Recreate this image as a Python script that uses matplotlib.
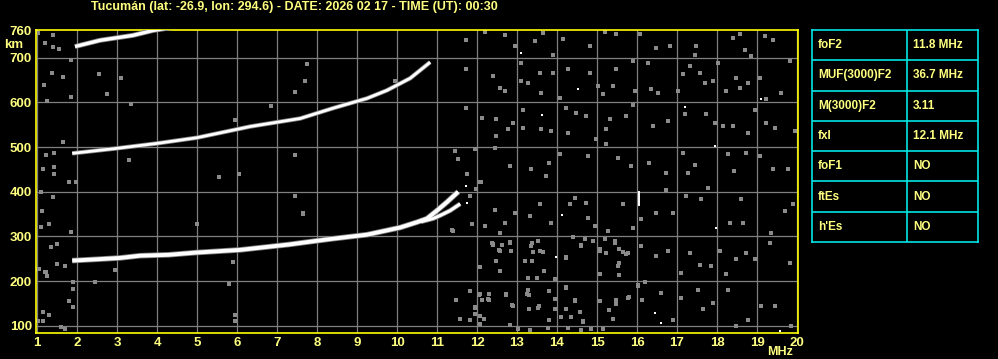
# Ionogram plot (Tucuman station) rebuilt with matplotlib

# Modules
import matplotlib
matplotlib.use('Agg')
import matplotlib.pyplot as plt

# Station / time header
title_text = "Tucumán (lat: -26.9, lon: 294.6) - DATE: 2026 02 17 - TIME (UT): 00:30"

# Axis ticks
freq_ticks = list(range(1, 21))
height_ticks = [100, 200, 300, 400, 500, 600, 700, 760]

# F2 first hop, ordinary trace (MHz, km)
f2_o_freq = [1.88, 2.5, 3.08, 3.58, 4.3, 4.98, 6.08, 7.3, 7.8, 8.4, 9.25, 10.08, 10.5, 10.75, 11.0, 11.25, 11.53]
f2_o_height = [246, 249, 252, 257, 259, 264, 270, 282, 288, 295, 304, 320, 332, 340, 358, 377, 400]

# F2 first hop, split (extraordinary) branch
f2_x_freq = [10.6, 10.9, 11.08, 11.33, 11.58]
f2_x_height = [333, 340, 347, 358, 373]

# F2 second hop
f2_2hop_freq = [1.88, 2.98, 3.98, 5.0, 6.33, 7.58, 8.4, 9.25, 9.75, 10.33, 10.83]
f2_2hop_height = [486, 497, 508, 521, 546, 564, 587, 609, 627, 654, 690]

# F2 third hop
f2_3hop_freq = [1.95, 2.58, 3.4, 3.9, 4.4]
f2_3hop_height = [725, 739, 750, 761, 768]

# Scattered noise echoes (MHz, km)
noise_freq = [
    1.23, 1.43, 1.15, 1.43, 1.43, 1.1, 1.4, 1.13, 1.3, 1.1, 1.85, 1.35, 1.5, 1.05, 1.23, 1.65, 1.8, 1.98,
    1.03, 1.2, 1.4, 1.2, 1.4, 1.55, 1.85, 1.18, 1.38, 1.65, 1.85, 1.25, 2.55, 3.1, 2.75, 3.35,
    1.03, 1.2, 1.25, 1.5, 1.7, 1.9, 1.9, 1.8, 1.9, 1.15, 1.3, 1.03, 1.15, 1.6, 1.7, 2.95, 2.45,
    5.9, 5.8, 5.95, 5.95, 3.3, 5.55, 6.05, 7.45, 7.45, 7.65, 5.0, 2.95, 7.75, 7.7, 7.45, 6.85, 5.95, 9.95,
    11.45, 11.53, 11.75, 12.08, 12.45, 12.2, 11.88, 11.4, 12.4, 7.65,
    11.73, 12.19, 12.69, 12.94, 13.44, 13.65, 13.9, 14.15, 14.82, 15.19, 15.48, 16.07, 16.48, 16.82,
    17.48, 17.44, 18.4, 18.57, 18.69, 18.86, 19.19, 19.4,
    11.72, 12.4, 12.57, 12.69, 13.1, 13.1, 13.27, 13.57, 13.6, 13.9, 14.07, 14.27, 14.82, 15.02,
    15.15, 15.4, 15.48, 15.9, 15.94, 16.27, 16.35, 16.52, 17.02, 17.15, 17.32, 17.57, 17.69, 17.9,
    18.02, 18.23, 18.48, 18.57, 18.77, 19.07, 19.23, 19.6, 19.82,
    11.73, 12.13, 12.48, 12.48, 12.77, 12.9, 13.15, 13.15, 13.6, 13.85, 14.22, 14.27, 14.48, 14.73,
    14.98, 15.23, 15.32, 15.73, 15.9, 16.4, 16.77, 17.19, 17.73, 17.94, 18.15, 18.4, 18.77, 18.94,
    19.23, 19.44, 19.94,
    11.94, 12.44, 12.82, 13.36, 13.73, 13.81, 14.07, 14.77, 15.23, 15.52, 15.85, 16.3, 16.73, 17.15,
    17.27, 17.44, 18.27, 18.43, 18.73, 19.07, 19.4, 19.78,
    11.98, 11.83, 12.1, 12.44, 12.69, 12.57, 12.94, 13.32, 13.57, 13.85, 14.32, 14.44, 14.73, 14.77,
    14.94, 15.27, 15.65, 15.9, 16.1, 16.48, 16.9, 16.73, 17.23, 17.6, 17.77, 18.32, 18.6, 18.65,
    19.36, 19.69, 19.9,
    12.4, 12.57, 12.82, 13.2, 13.36, 13.57, 14.23, 14.6, 14.9, 15.07, 15.44, 15.52, 15.73, 16.1,
    16.48, 16.77, 17.1, 17.32, 17.57, 17.85, 18.07, 18.23, 18.48, 18.73, 18.94, 19.32, 19.82,
    11.94, 12.06, 12.27, 12.73, 12.9, 13.28, 13.53, 13.94, 14.23, 14.44, 14.65, 15.07, 15.48, 15.77,
    16.02, 16.61, 16.9, 17.1, 17.52, 17.65, 17.9, 18.27, 18.48, 18.77, 19.1, 19.44, 19.86,
    # denser patch, 11-16 MHz below 300 km
    11.38, 12.58, 12.38, 12.63, 12.82, 12.55, 12.84, 12.48, 12.08, 12.58, 13.19, 13.38, 13.4, 13.65,
    13.53, 13.38, 13.68, 13.5, 13.28, 13.94, 14.23, 14.4, 14.61, 14.69, 14.9, 15.19, 15.44, 15.08,
    15.23, 15.55, 15.65, 15.78, 15.55, 15.08, 15.55,
    11.83, 11.48, 11.94, 11.94, 11.58, 11.83, 12.07, 12.18, 12.08, 12.08, 12.29, 12.13, 12.3, 12.73,
    12.88, 12.82, 13.25, 13.3, 13.29, 13.54, 13.79, 13.79, 13.94, 13.94, 14.09, 14.23, 14.23, 14.36,
    14.44, 14.58, 14.65, 14.86, 15.15, 15.29, 15.4, 15.48, 15.79, 16.12, 16.03, 16.19, 13.03, 13.32,
    13.78, 14.28, 14.61,
]
noise_height = [
    483, 486, 452, 456, 439, 400, 389, 356, 329, 322, 311, 277, 284, 228, 221, 512, 423, 423,
    755, 732, 750, 732, 723, 719, 694, 640, 665, 656, 613, 604, 663, 654, 618, 596,
    228, 221, 212, 239, 235, 199, 183, 156, 143, 131, 125, 111, 111, 98, 93, 226, 199,
    243, 194, 125, 111, 470, 434, 439, 483, 391, 351, 329, 226, 685, 649, 624, 591, 560, 649,
    492, 474, 439, 423, 360, 324, 329, 313, 284, 353,
    740, 758, 750, 726, 737, 756, 707, 741, 726, 758, 754, 752, 722, 726,
    726, 705, 745, 752, 717, 704, 748, 740,
    674, 659, 633, 625, 689, 648, 644, 666, 622, 666, 610, 674, 666, 637,
    618, 637, 674, 693, 625, 689, 629, 622, 625, 663, 681, 666, 644, 648,
    689, 625, 655, 633, 644, 655, 607, 622, 693,
    588, 566, 562, 525, 540, 555, 584, 543, 540, 536, 588, 532, 577, 570,
    517, 540, 563, 569, 595, 547, 558, 573, 573, 555, 547, 547, 532, 584,
    555, 543, 536,
    495, 499, 457, 450, 435, 465, 484, 480, 506, 476, 457, 465, 443, 487,
    443, 461, 484, 446, 487, 480, 450, 450,
    407, 390, 422, 359, 331, 308, 353, 346, 372, 331, 372, 387, 375, 342,
    323, 312, 372, 320, 338, 353, 353, 405, 390, 383, 409, 331, 383, 331,
    308, 357, 372,
    282, 267, 286, 245, 278, 267, 252, 278, 289, 267, 286, 234, 260, 278,
    256, 267, 219, 263, 237, 233, 267, 215, 249, 263, 249, 286, 241,
    140, 170, 159, 170, 144, 181, 140, 159, 185, 155, 110, 155, 148, 162,
    189, 174, 114, 162, 181, 137, 152, 181, 99, 114, 144, 144, 99,
    315, 308, 285, 281, 287, 270, 268, 245, 231, 223, 245, 285, 265, 266,
    289, 246, 223, 208, 206, 204, 253, 298, 281, 295, 289, 295, 290, 272,
    262, 272, 265, 262, 240, 217, 214,
    177, 157, 142, 127, 116, 114, 122, 116, 105, 172, 172, 157, 157, 172,
    147, 101, 172, 168, 138, 144, 177, 112, 161, 138, 120, 186, 138, 120,
    157, 131, 108, 93, 93, 135, 116, 157, 165, 157, 191, 198, 93, 91,
    95, 95, 91,
]

# Strong isolated echoes (white)
spot_freq = [13.1, 14.52, 19.11, 13.63, 17.19, 17.94, 11.73, 11.75, 14.13, 17.98, 13.98, 16.44, 16.59, 19.58]
spot_height = [711, 629, 607, 571, 590, 502, 413, 375, 347, 320, 254, 129, 107, 88]

# Vertical white echo near 16 MHz
bar_freq = [16.05, 16.05]
bar_height = [370, 400]

# Scaled parameters table
param_names = ["foF2", "MUF(3000)F2", "M(3000)F2", "fxI", "foF1", "ftEs", "h'Es"]
param_values = ["11.8 MHz", "36.7 MHz", "3.11", "12.1 MHz", "NO", "NO", "NO"]

# Colours
yellow = '#ffff80'
grid_gray = '#808080'
cyan = '#00e5e5'

W, H = 998, 359
plt.rcParams['font.family'] = ['Liberation Sans', 'DejaVu Sans']

fig = plt.figure(figsize=(W / 100, H / 100), dpi=100, facecolor='black')

# Main ionogram axes
ax = fig.add_axes([36 / W, 26 / H, 762 / W, 303 / H], facecolor='black')
ax.set_xlim(0.975, 20.025)
ax.set_ylim(84, 762)

ax.set_xticks(freq_ticks)
ax.set_xticklabels([str(t) for t in freq_ticks])
ax.set_yticks(height_ticks)
ax.set_yticklabels([str(t) for t in height_ticks])
ax.tick_params(length=0, labelcolor=yellow, labelsize=9.5, pad=3)
for lab in ax.get_xticklabels() + ax.get_yticklabels():
    lab.set_fontweight('bold')

# Grid, but not at 760 which is the top border
for f in freq_ticks:
    ax.axvline(f, color=grid_gray, lw=0.9, zorder=1)
for h in height_ticks[:-1]:
    ax.axhline(h, color=grid_gray, lw=0.9, zorder=1)

for sp in ax.spines.values():
    sp.set_color('#ffff00')
    sp.set_linewidth(1.2)

# Noise first, traces on top (no antialiasing so the dots stay crisp pixels)
ax.scatter(noise_freq, noise_height, s=5, marker='s', color='#8a8a8a', linewidths=0,
           antialiased=False, zorder=2)
ax.scatter(spot_freq, spot_height, s=4, marker='s', color='white', linewidths=0,
           antialiased=False, zorder=3)
ax.plot(bar_freq, bar_height, color='white', lw=1.4, zorder=3)

traces = [
    (f2_o_freq, f2_o_height, 2.8),
    (f2_x_freq, f2_x_height, 2.2),
    (f2_2hop_freq, f2_2hop_height, 2.0),
    (f2_3hop_freq, f2_3hop_height, 2.4),
]
for fr, hg, lw in traces:
    ax.plot(fr, hg, color=grid_gray, lw=lw + 1.2, solid_capstyle='butt', zorder=3)
    ax.plot(fr, hg, color='white', lw=lw, solid_capstyle='butt', zorder=4)

# Header and unit labels
fig.text(91 / W, 1 - 7 / H, title_text, color=yellow, fontsize=9, fontweight='bold',
         ha='left', va='center')
fig.text(14 / W, 1 - 45 / H, "km", color=yellow, fontsize=9.5, fontweight='bold',
         ha='center', va='center')
fig.text(780 / W, 1 - 352 / H, "MHz", color=yellow, fontsize=9, fontweight='bold',
         ha='center', va='center')

# Parameters table
tab = fig.add_axes([812 / W, (H - 242) / H, 166 / W, 212 / H], facecolor='black')
tab.set_xlim(0, 166)
tab.set_ylim(len(param_names), 0)
tab.set_xticks([])
tab.set_yticks([])
for sp in tab.spines.values():
    sp.set_color(cyan)
    sp.set_linewidth(1.2)
for i in range(1, len(param_names)):
    tab.axhline(i, color=cyan, lw=1.2)
tab.axvline(95, color=cyan, lw=1.2)
for i, (name, val) in enumerate(zip(param_names, param_values)):
    tab.text(6, i + 0.5, name, color=yellow, fontsize=8.5, fontweight='bold', va='center')
    tab.text(101, i + 0.5, val, color=yellow, fontsize=8.5, fontweight='bold', va='center')

plt.savefig('out.png', dpi=100, facecolor='black')
